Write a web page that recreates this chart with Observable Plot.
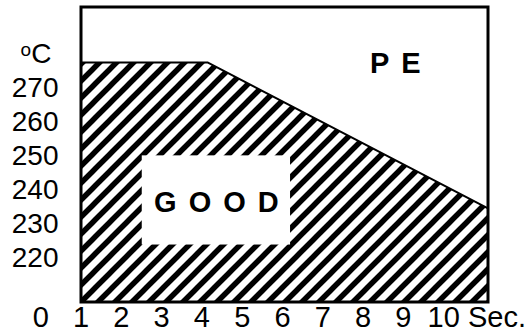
<!DOCTYPE html>
<html><head><meta charset="utf-8">
<script src="https://cdn.jsdelivr.net/npm/d3@7"></script>
<script src="https://cdn.jsdelivr.net/npm/@observablehq/plot@0.6"></script>
<style>body{margin:0;background:#fff} svg{display:block}</style>
</head><body><div id="chart"></div>
<script>
// Processing window boundary (time in s, temperature in °C)
const boundaryX = [1, 4.15, 11.1];
const boundaryY = [277.6, 277.6, 234.6];
const yFloor = 207;
// "GOOD" label box
const goodBoxX = [2.52, 6.2];
const goodBoxY = [223.8, 250.1];
// Region labels
const regionNames = ["GOOD", "PE"];
const regionX = [4.36, 8.8];
const regionY = [236.95, 278];
// Ticks
const xTicks = [0, 1, 2, 3, 4, 5, 6, 7, 8, 9, 10];
const yTicks = [220, 230, 240, 250, 260, 270];
const xUnit = "Sec.";
const yUnit = "C";
const yUnitSup = "o";
const yUnitAt = 280;

const boundary = boundaryX.map((x, i) => ({x, y: boundaryY[i]}));
const regions = regionNames.map((t, i) => ({t, x: regionX[i], y: regionY[i]}));
const font = "Liberation Sans, Arial, sans-serif";

const svg = Plot.plot({
  width: 530, height: 336,
  marginLeft: 80.5, marginRight: 42.5, marginTop: 6.5, marginBottom: 34.5,
  x: {domain: [1, 11.1], axis: null},
  y: {domain: [207, 294], axis: null},
  style: {fontFamily: font, background: "white", overflow: "visible", color: "black"},
  marks: [
    Plot.areaY(boundary, {x: "x", y1: yFloor, y2: "y", fill: "url(#hatch)"}),
    Plot.line(boundary, {x: "x", y: "y", stroke: "black", strokeWidth: 2}),
    Plot.rect([0], {x1: () => goodBoxX[0], x2: () => goodBoxX[1], y1: () => goodBoxY[0], y2: () => goodBoxY[1], fill: "white"}),
    Plot.text(regions, {x: "x", y: "y", text: "t", fontSize: 29, fontWeight: "bold", fill: "black", dx: 6, dy: 2}),
    Plot.frame({stroke: "black", strokeWidth: 3}),
    Plot.text(yTicks, {y: d => d, text: d => String(d), frameAnchor: "left", textAnchor: "end", dx: -22.5, fontSize: 28, fill: "black"}),
    Plot.text(xTicks, {x: d => d, text: d => String(d), frameAnchor: "bottom", lineAnchor: "top", dy: 4, fontSize: 29, fill: "black"}),
    Plot.text([xUnit], {text: d => d, frameAnchor: "bottom-right", textAnchor: "start", lineAnchor: "top", dx: -20, dy: 4, fontSize: 29, fill: "black"}),
    Plot.text([yUnit], {y: () => yUnitAt, text: d => d, frameAnchor: "left", textAnchor: "end", dx: -29.5, fontSize: 28, fill: "black"}),
    Plot.text([yUnitSup], {y: () => yUnitAt, text: d => d, frameAnchor: "left", textAnchor: "end", dx: -50, dy: -5, fontSize: 19, fill: "black"})
  ]
});

const root = d3.select(svg);
const defs = root.insert("defs", ":first-child");
const p = defs.append("pattern").attr("id", "hatch").attr("patternUnits", "userSpaceOnUse")
  .attr("width", 17).attr("height", 17).attr("x", 9).attr("y", 0);
p.append("rect").attr("width", 17).attr("height", 17).attr("fill", "white");
p.append("path").attr("d", "M-3,3 L3,-3 M0,17 L17,0 M14,20 L20,14")
  .attr("stroke", "black").attr("stroke-width", 5.5).attr("fill", "none");
root.selectAll("text").filter(function() { return regionNames.includes(this.textContent); })
  .attr("letter-spacing", 12);

document.getElementById("chart").appendChild(svg);
</script>
</body></html>
